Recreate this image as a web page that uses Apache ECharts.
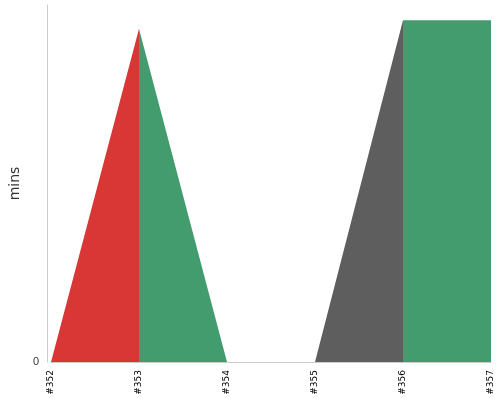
<!DOCTYPE html>
<html><head><meta charset="utf-8">
<script src="https://cdn.jsdelivr.net/npm/echarts@6/dist/echarts.min.js"></script>
<style>html,body{margin:0;padding:0}#c{width:500px;height:400px}</style>
</head><body><div id="c"></div>
<script>
const categories = ['#352','#353','#354','#355','#356','#357'];
const durations = [0, 9.8, 0, 0, 10.05, 10.05];
const chart = echarts.init(document.getElementById('c'));
chart.setOption({
  animation: false,
  grid: {left: 43, right: 9, top: 5, bottom: 38},
  xAxis: {
    type: 'category', data: categories, boundaryGap: false,
    axisLine: {lineStyle: {color: '#ccc'}}, axisTick: {show: false},
    axisLabel: {rotate: 90, fontSize: 9, color: '#000', fontFamily: 'DejaVu Sans', interval: 0}
  },
  yAxis: {
    type: 'value', min: 0, max: 10.5, offset: 4,
    name: 'mins', nameLocation: 'middle', nameGap: 24, nameRotate: 90,
    nameTextStyle: {fontSize: 14, color: '#333', fontFamily: 'DejaVu Sans'},
    axisLine: {show: true, lineStyle: {color: '#ccc'}}, axisTick: {show: false},
    splitLine: {show: false},
    axisLabel: {color: '#333', fontSize: 11, formatter: v => v === 0 ? '0' : ''}
  },
  visualMap: {
    type: 'piecewise', show: false, dimension: 0,
    pieces: [
      {lt: 0.5, color: '#d93636'},
      {gte: 0.5, lt: 1.5, color: '#439c6e'},
      {gte: 1.5, lt: 3.5, color: '#5e5e5e'},
      {gte: 3.5, color: '#439c6e'}
    ]
  },
  series: [{
    type: 'line', data: durations, symbol: 'none',
    lineStyle: {width: 0}, areaStyle: {opacity: 1}
  }]
});
</script></body></html>
